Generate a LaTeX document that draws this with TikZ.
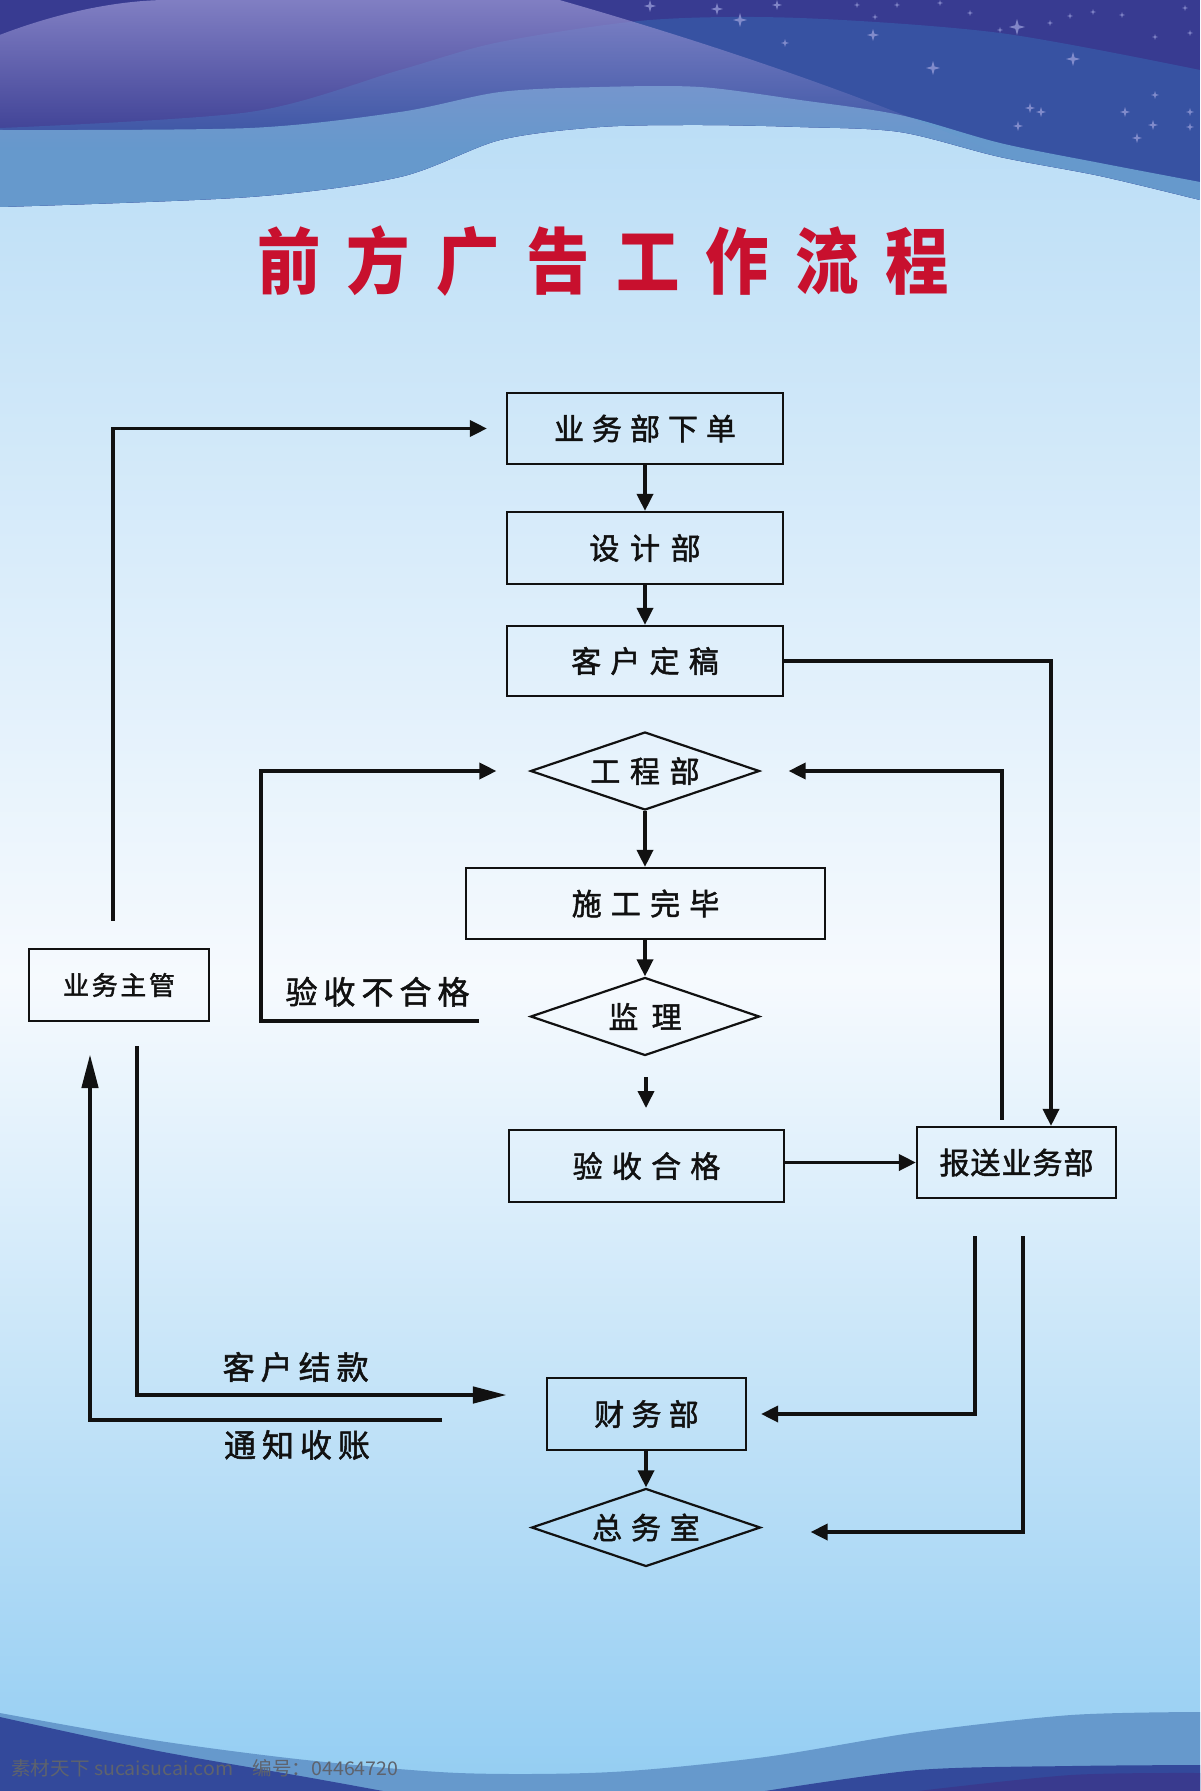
\documentclass[tikz,border=0pt]{standalone}
\usepackage{fontspec}
\setmainfont{Noto Sans CJK SC}
\newfontfamily\nodefamily[FakeBold=1.6]{Noto Sans CJK SC}
\usetikzlibrary{arrows.meta,shapes.geometric,fadings}
\definecolor{navy}{HTML}{383B91}
\definecolor{midblue}{HTML}{3752A2}
\definecolor{bandblue}{HTML}{6699CC}
\definecolor{hillcol}{HTML}{9390D0}
\definecolor{bgtop}{HTML}{B3DAF5}
\definecolor{bgmid}{HTML}{F6FAFE}
\definecolor{bgbot}{HTML}{93CDF2}
\definecolor{titlered}{HTML}{C8102E}
\definecolor{ink}{HTML}{111111}
\definecolor{darkbot}{HTML}{33499B}
\definecolor{purplebot}{HTML}{393A8E}
\definecolor{starcol}{HTML}{9A9FDA}
\definecolor{wmgray}{HTML}{5E636D}

\def\lspaux#1{\ifx\relax#1\else#1\expandafter\lspnext\fi}
\def\lspnext#1{\ifx\relax#1\else\hspace{\lspsep}#1\expandafter\lspnext\fi}
\newcommand\lsp[2]{\def\lspsep{#1}\lspaux#2\relax}
\newcommand\twinkle[3]{\fill[starcol,opacity=0.75] (#1,#2) +(0,-#3) -- +({0.22*#3},{-0.22*#3}) -- +(#3,0) -- +({0.22*#3},{0.22*#3}) -- +(0,#3) -- +({-0.22*#3},{0.22*#3}) -- +(-#3,0) -- +({-0.22*#3},{-0.22*#3}) -- cycle;}

\tikzset{
  box/.style={draw=ink, line width=1.1pt, rectangle, inner sep=0pt, text=ink, font=\nodefamily\fontsize{15pt}{17pt}\selectfont},
  dia/.style={draw=ink, line width=1.1pt, diamond, aspect=2.9, inner sep=0pt, text=ink, minimum width=114.5pt, minimum height=39pt, font=\nodefamily\fontsize{15pt}{17pt}\selectfont},
  conn/.style={draw=ink, line width=1.8pt, -{Triangle[length=8.5pt,width=8pt]}},
  bigconn/.style={draw=ink, line width=2.3pt, -{Triangle[length=17pt,width=8pt]}},
  lbl/.style={text=ink, inner sep=0pt, font=\nodefamily\fontsize{16pt}{18pt}\selectfont},
}

\begin{document}
\begin{tikzpicture}[x=0.5pt,y=-0.5pt]
\useasboundingbox (0,0) rectangle (1200,1791);
% background
\fill[top color=bgtop, bottom color=bgmid] (0,0) rectangle (1200,980);
\fill[top color=bgmid, bottom color=bgbot] (0,980) rectangle (1200,1791);

% top banner
\begin{scope}
\clip (0,0) -- (1200,0) -- plot[smooth] coordinates {(1200,200) (1100,176) (1000,157) (900,132) (800,127) (700,125) (600,127) (500,140) (400,177) (250,197) (0,207)} -- cycle;
\fill[navy] (0,0) rectangle (1200,260);
\fill[midblue] plot[smooth] coordinates {(0,128) (250,112) (400,70) (500,42) (650,20) (800,18) (1000,33) (1200,70)} -- (1200,260) -- (0,260) -- cycle;
\fill[bandblue] plot[smooth] coordinates {(0,130) (250,128) (400,112) (500,92) (600,87) (700,87) (800,100) (900,115) (1000,143) (1100,163) (1200,182)} -- (1200,260) -- (0,260) -- cycle;
\fill[hillcol, opacity=0.8, path fading=south] (0,35) .. controls (60,12) and (120,0) .. (170,0) -- (560,0) .. controls (700,40) and (850,90) .. (990,150) -- (0,150) -- cycle;
\twinkle{650}{6}{6}
\twinkle{717}{9}{6}
\twinkle{740}{20}{7}
\twinkle{777}{5}{5}
\twinkle{785}{43}{4}
\twinkle{857}{5}{3}
\twinkle{873}{35}{6}
\twinkle{875}{17}{3}
\twinkle{897}{5}{3}
\twinkle{933}{68}{7}
\twinkle{940}{3}{3}
\twinkle{970}{13}{3}
\twinkle{1000}{30}{3}
\twinkle{1017}{27}{8}
\twinkle{1018}{126}{5}
\twinkle{1030}{108}{5}
\twinkle{1041}{112}{5}
\twinkle{1050}{23}{3}
\twinkle{1070}{16}{3}
\twinkle{1073}{59}{7}
\twinkle{1093}{12}{3}
\twinkle{1122}{15}{3}
\twinkle{1125}{112}{5}
\twinkle{1137}{138}{5}
\twinkle{1153}{125}{5}
\twinkle{1155}{95}{4}
\twinkle{1155}{37}{3}
\twinkle{1185}{8}{3}
\twinkle{1190}{33}{3}
\twinkle{1190}{112}{4}
\twinkle{1190}{127}{4}
\end{scope}

% bottom banner
\fill[bandblue] plot[smooth] coordinates {(0,1713) (153,1740) (306,1760) (459,1773) (612,1772) (765,1757) (918,1732) (1071,1715) (1200,1712)} -- (1200,1791) -- (0,1791) -- cycle;
\fill[darkbot] plot[smooth] coordinates {(0,1717) (153,1750) (306,1777) (383,1791)} -- (0,1791) -- cycle;
\fill[darkbot] plot[smooth] coordinates {(765,1791) (918,1770) (1071,1766) (1200,1765)} -- (1200,1791) -- cycle;
\fill[purplebot] plot[smooth] coordinates {(918,1791) (1071,1775) (1200,1773)} -- (1200,1791) -- cycle;
\node[anchor=west, inner sep=0pt, text=wmgray] (wm) at (11,1768) {\resizebox{193.5pt}{8pt}{\fontsize{10pt}{12pt}\selectfont 素材天下 sucaisucai.com\quad 编号：04464720}};

% title
\node[inner sep=0pt, text=titlered, font=\fontsize{36pt}{40pt}\selectfont\bfseries] (title) at (603,261.5) {\scalebox{0.88}[1]{\lsp{15pt}{前方广告工作流程}}};

% nodes
\node[box, minimum width=138pt, minimum height=35.5pt] (b1) at (645,428.5) {\lsp{4pt}{业务部下单}};
\node[box, minimum width=138pt, minimum height=36pt] (b2) at (645,548) {\lsp{5.3pt}{设计部}};
\node[box, minimum width=138pt, minimum height=35pt] (b3) at (645,661) {\lsp{4.6pt}{客户定稿}};
\node[dia] (d1) at (645,771) {\lsp{4.8pt}{工程部}};
\node[box, minimum width=179.5pt, minimum height=35.5pt] (b4) at (645.5,903.5) {\lsp{4.6pt}{施工完毕}};
\node[dia] (d2) at (645,1016.5) {\lsp{6.6pt}{监理}};
\node[box, minimum width=137.5pt, minimum height=36pt] (b5) at (646.5,1166) {\lsp{4.6pt}{验收合格}};
\node[box, minimum width=99.5pt, minimum height=35.5pt, font=\nodefamily\fontsize{15pt}{17pt}\selectfont] (b6) at (1016.5,1162.5) {\lsp{0.5pt}{报送业务部}};
\node[box, minimum width=90pt, minimum height=36pt, font=\nodefamily\fontsize{13pt}{15pt}\selectfont] (b7) at (119,985) {\lsp{1.3pt}{业务主管}};
\node[box, minimum width=99.5pt, minimum height=36pt] (b8) at (646.5,1414) {\lsp{3.6pt}{财务部}};
\node[dia] (d3) at (646,1527.5) {\lsp{4.4pt}{总务室}};

% labels
\node[lbl] (l1) at (377.5,991.7) {\lsp{3pt}{验收不合格}};
\node[lbl] (l2) at (295.7,1367) {\lsp{3pt}{客户结款}};
\node[lbl] (l3) at (297,1445) {\lsp{3pt}{通知收账}};

% free ends
\coordinate (c1) at (646,1077);
\coordinate (c2) at (646,1108);
\coordinate (lA) at (479,1021);
\coordinate (lB) at (261,1021);
\coordinate (tA) at (442,1420);

% connectors
\draw[conn] (b1.south) -- (b2.north);
\draw[conn] (b2.south) -- (b3.north);
\draw[conn] (d1.south) -- (d1.south |- b4.north);
\draw[conn] (d2.north |- b4.south) -- (d2.north);
\draw[conn] (c1) -- (c2);
\draw[conn] (b6.west -| b5.east) -- (b6.west);
\draw[conn] (d3.north |- b8.south) -- (d3.north);
\draw[conn] (b3.east) -| ([xshift=17.25pt]b6.north);
\draw[conn] ([xshift=-7.25pt,yshift=3pt]b6.north) |- ([xshift=14pt]d1.east);
\draw[conn] (lA) -- (lB) |- ([xshift=-16.5pt]d1.west);
\draw[conn] ([xshift=-3pt,yshift=13.5pt]b7.north) |- ([xshift=-9.5pt]b1.west);
\draw[bigconn] ([xshift=9pt,yshift=-12pt]b7.south) |- ([xshift=-19.5pt,yshift=9.5pt]b8.west);
\draw[bigconn] (tA) -| ([xshift=-14.5pt,yshift=-16pt]b7.south);
\draw[conn] ([xshift=-20.75pt,yshift=-18.5pt]b6.south) |- ([xshift=7pt]b8.east);
\draw[conn] ([xshift=3.25pt,yshift=-18.5pt]b6.south) |- ([xshift=24.5pt,yshift=-2.25pt]d3.east);
\end{tikzpicture}
\end{document}
